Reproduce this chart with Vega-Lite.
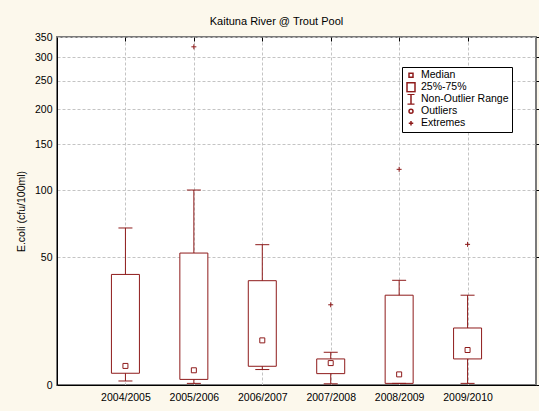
{
  "$schema": "https://vega.github.io/schema/vega-lite/v6.json",
  "width": 479,
  "height": 348,
  "autosize": "none",
  "padding": {"left": 57, "top": 37, "right": 3, "bottom": 26},
  "background": "#fcf8ec",
  "title": {"text": "Kaituna River @ Trout Pool", "fontSize": 11, "font": "Liberation Sans", "fontWeight": "normal", "color": "black", "anchor": "middle", "dx": -20, "dy": 16, "baseline": "alphabetic", "offset": 12.5, "frame": "group"},
  "config": {
    "view": {"fill": "white", "stroke": "#7a7a7a", "strokeWidth": 2},
    "axis": {"labelFont": "Liberation Sans", "labelFontSize": 10.5, "labelColor": "black", "titleFont": "Liberation Sans", "titleFontSize": 10.5, "titleFontWeight": "normal", "titleColor": "black", "domainColor": "black", "gridColor": "#c4c4c4", "gridDash": [3, 2], "tickColor": "black"}
  },
  "datasets": {
    "boxes": [
      {"year": "2004/2005", "min": 1.0, "q1": 3.0, "median": 5.0, "q3": 40.5, "max": 69},
      {"year": "2005/2006", "min": 0.4, "q1": 1.4, "median": 3.8, "q3": 52.5, "max": 100},
      {"year": "2006/2007", "min": 4.0, "q1": 4.9, "median": 12.8, "q3": 37.3, "max": 57.7},
      {"year": "2007/2008", "min": 0.3, "q1": 2.9, "median": 5.8, "q3": 7.0, "max": 9.0},
      {"year": "2008/2009", "min": 0.4, "q1": 0.4, "median": 2.7, "q3": 30.4, "max": 37.5},
      {"year": "2009/2010", "min": 0.4, "q1": 7.0, "median": 9.7, "q3": 17.1, "max": 30.4}
    ],
    "extremes": [
      {"year": "2005/2006", "value": 325},
      {"year": "2007/2008", "value": 26.2},
      {"year": "2008/2009", "value": 120.6},
      {"year": "2009/2010", "value": 57.9}
    ]
  },
  "layer": [
    {
      "data": {"name": "boxes"},
      "mark": {"type": "rule", "color": "#8e1b1b", "strokeWidth": 1},
      "encoding": {
        "x": {"field": "year", "type": "nominal", "sort": null, "scale": {"type": "point", "padding": 1}, "axis": {"orient": "bottom", "title": null, "labelAngle": 0, "grid": true, "tickSize": 0, "labelPadding": 7, "domainWidth": 1}},
        "y": {"field": "min", "type": "quantitative", "scale": {"type": "symlog", "constant": 36, "domain": [0, 350], "nice": false, "zero": false}, "axis": {"orient": "left", "values": [0, 50, 100, 150, 200, 250, 300, 350], "title": "E.coli (cfu/100ml)", "grid": true, "tickSize": 0, "labelPadding": 5, "titlePadding": 8, "domainWidth": 1}},
        "y2": {"field": "max"}
      }
    },
    {
      "data": {"name": "boxes"},
      "mark": {"type": "bar", "width": 28, "fill": "white", "stroke": "#8e1b1b", "strokeWidth": 1},
      "encoding": {
        "x": {"field": "year", "type": "nominal", "sort": null, "axis": null},
        "y": {"field": "q1", "type": "quantitative", "axis": null},
        "y2": {"field": "q3"}
      }
    },
    {
      "data": {"name": "boxes"},
      "mark": {"type": "tick", "color": "#8e1b1b", "size": 14, "thickness": 1, "opacity": 1},
      "encoding": {
        "x": {"field": "year", "type": "nominal", "sort": null, "axis": null},
        "y": {"field": "min", "type": "quantitative", "axis": null}
      }
    },
    {
      "data": {"name": "boxes"},
      "mark": {"type": "tick", "color": "#8e1b1b", "size": 14, "thickness": 1, "opacity": 1},
      "encoding": {
        "x": {"field": "year", "type": "nominal", "sort": null, "axis": null},
        "y": {"field": "max", "type": "quantitative", "axis": null}
      }
    },
    {
      "data": {"name": "boxes"},
      "mark": {"type": "point", "filled": true, "fill": "white", "stroke": "#8e1b1b", "strokeWidth": 1, "size": 156, "opacity": 1},
      "encoding": {
        "x": {"field": "year", "type": "nominal", "sort": null, "axis": null},
        "y": {"field": "median", "type": "quantitative", "axis": null},
        "shape": {
          "datum": "Median", "type": "nominal",
          "scale": {"domain": ["Median", "25%-75%", "Non-Outlier Range", "Outliers", "Extremes"], "range": ["M-0.4,-0.4H0.4V0.4H-0.4Z", "M-0.8,-0.9H0.8V0.9H-0.8Z", "M-0.7,-1H0.7M0,-1V1M-0.7,1H0.7", "M-0.4,0A0.4,0.4,0,1,0,0.4,0A0.4,0.4,0,1,0,-0.4,0Z", "M-0.45,0H0.45M0,-0.45V0.45"]},
          "legend": {"title": null, "orient": "none", "legendX": 345, "legendY": 30, "symbolSize": 100, "clipHeight": 10.5, "labelFontSize": 10.5, "labelFont": "Liberation Sans", "labelColor": "black", "padding": 3, "rowPadding": 1, "strokeColor": "black", "fillColor": "white", "labelOffset": 4, "encode": {"symbols": {"update": {"fill": {"value": "white"}, "stroke": {"value": "#8e1b1b"}, "strokeWidth": {"value": 1}, "opacity": {"value": 1}}}}}
        }
      }
    },
    {
      "data": {"name": "extremes"},
      "mark": {"type": "point", "filled": false, "stroke": "#8e1b1b", "strokeWidth": 1, "size": 123, "opacity": 1},
      "encoding": {
        "x": {"field": "year", "type": "nominal", "sort": null, "axis": null},
        "y": {"field": "value", "type": "quantitative", "axis": null},
        "shape": {
          "datum": "Extremes", "type": "nominal",
          "scale": {"domain": ["Median", "25%-75%", "Non-Outlier Range", "Outliers", "Extremes"], "range": ["M-0.4,-0.4H0.4V0.4H-0.4Z", "M-0.8,-0.9H0.8V0.9H-0.8Z", "M-0.7,-1H0.7M0,-1V1M-0.7,1H0.7", "M-0.4,0A0.4,0.4,0,1,0,0.4,0A0.4,0.4,0,1,0,-0.4,0Z", "M-0.45,0H0.45M0,-0.45V0.45"]},
          "legend": {"title": null, "orient": "none", "legendX": 345, "legendY": 30, "symbolSize": 100, "clipHeight": 10.5, "labelFontSize": 10.5, "labelFont": "Liberation Sans", "labelColor": "black", "padding": 3, "rowPadding": 1, "strokeColor": "black", "fillColor": "white", "labelOffset": 4, "encode": {"symbols": {"update": {"fill": {"value": "white"}, "stroke": {"value": "#8e1b1b"}, "strokeWidth": {"value": 1}, "opacity": {"value": 1}}}}}
        }
      }
    },
    {
      "data": {"name": "boxes"},
      "mark": {"type": "rule", "opacity": 0},
      "encoding": {
        "x": {"field": "year", "type": "nominal", "sort": null, "axis": {"orient": "top", "title": null, "labels": false, "domain": false, "grid": false, "tickSize": -4}},
        "y": {"field": "min", "type": "quantitative", "axis": {"orient": "right", "title": null, "labels": false, "domain": false, "grid": false, "tickSize": 3, "values": [0, 50, 100, 150, 200, 250, 300, 350]}}
      }
    }
  ],
  "resolve": {"axis": {"x": "independent", "y": "independent"}}
}
